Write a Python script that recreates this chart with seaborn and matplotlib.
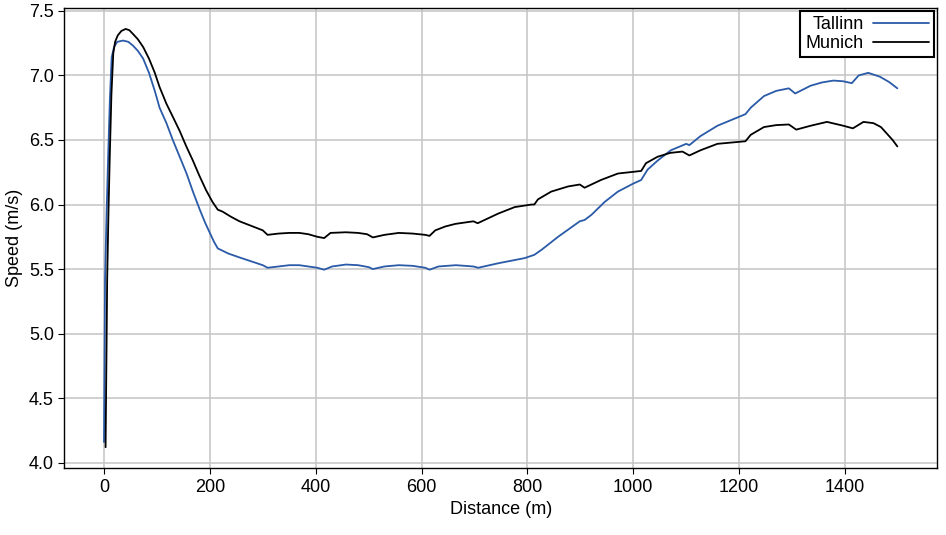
import seaborn as sns
import matplotlib.pyplot as plt
import pandas as pd

tallinn_dist = [0, 2, 5, 8, 11, 14.5, 19, 25, 36, 46, 55, 64, 74, 85, 96, 105, 118, 130, 143, 156,
                168, 181, 191, 200, 208, 215, 235, 256, 278, 300, 309, 330, 350, 369, 386, 403,
                416, 431, 457, 480, 500, 508, 530, 557, 583, 607, 615, 632, 665, 698, 707, 745,
                795, 813, 827, 858, 899, 908, 921, 946, 971, 999, 1015, 1027, 1046, 1071, 1100,
                1106, 1127, 1159, 1212, 1222, 1247, 1270, 1294, 1306, 1335, 1356, 1378, 1396,
                1413, 1426, 1444, 1466, 1483, 1499]
tallinn_speed = [4.16, 5.42, 5.95, 6.39, 6.80, 7.14, 7.22, 7.26, 7.27, 7.26, 7.23, 7.19, 7.13,
                 7.02, 6.88, 6.75, 6.63, 6.50, 6.37, 6.24, 6.10, 5.96, 5.86, 5.78, 5.71, 5.66,
                 5.62, 5.59, 5.56, 5.53, 5.51, 5.52, 5.53, 5.53, 5.52, 5.51, 5.495, 5.52, 5.535,
                 5.53, 5.515, 5.50, 5.52, 5.53, 5.525, 5.51, 5.495, 5.52, 5.53, 5.52, 5.51, 5.545,
                 5.585, 5.61, 5.65, 5.75, 5.87, 5.88, 5.92, 6.02, 6.10, 6.16, 6.19, 6.27, 6.34,
                 6.42, 6.47, 6.46, 6.53, 6.61, 6.70, 6.75, 6.84, 6.88, 6.90, 6.86, 6.92, 6.945,
                 6.96, 6.955, 6.94, 7.00, 7.02, 6.99, 6.95, 6.90]

munich_dist = [3, 6, 8.5, 11, 14, 17.5, 21, 26, 33, 41, 48, 55, 64, 74, 85, 96, 105, 118, 130,
               143, 155, 168, 180, 193, 205, 215, 224, 240, 256, 278, 300, 309, 330, 350, 369,
               386, 403, 416, 428, 457, 480, 497, 508, 530, 557, 583, 607, 615, 626, 645, 664,
               698, 706, 745, 776, 808, 813, 820, 845, 877, 899, 908, 939, 971, 1015, 1024, 1046,
               1070, 1093, 1106, 1127, 1159, 1212, 1222, 1247, 1270, 1294, 1308, 1335, 1366,
               1397, 1415, 1435, 1454, 1468, 1479, 1490, 1499]
munich_speed = [4.12, 5.42, 5.95, 6.39, 6.85, 7.17, 7.26, 7.31, 7.345, 7.36, 7.35, 7.32, 7.28,
                7.22, 7.13, 7.02, 6.91, 6.78, 6.68, 6.57, 6.455, 6.34, 6.225, 6.11, 6.02, 5.96,
                5.945, 5.905, 5.87, 5.835, 5.80, 5.765, 5.775, 5.78, 5.78, 5.77, 5.75, 5.74, 5.78,
                5.785, 5.78, 5.77, 5.745, 5.765, 5.78, 5.775, 5.765, 5.757, 5.80, 5.83, 5.85, 5.87,
                5.855, 5.93, 5.98, 6.00, 6.00, 6.04, 6.10, 6.14, 6.155, 6.13, 6.19, 6.24, 6.26,
                6.32, 6.37, 6.40, 6.41, 6.38, 6.42, 6.47, 6.49, 6.54, 6.60, 6.615, 6.62, 6.58, 6.61,
                6.64, 6.61, 6.59, 6.64, 6.63, 6.60, 6.55, 6.50, 6.45]

palette = {'Tallinn': '#2a5aa8', 'Munich': '#000000'}

df = pd.concat([
    pd.DataFrame({'Distance': tallinn_dist, 'Speed': tallinn_speed, 'City': 'Tallinn'}),
    pd.DataFrame({'Distance': munich_dist, 'Speed': munich_speed, 'City': 'Munich'}),
], ignore_index=True)

sns.set_style("ticks")
plt.rcParams['font.family'] = ['Liberation Sans', 'DejaVu Sans']
for k in ['text.color', 'axes.labelcolor', 'xtick.color', 'ytick.color']:
    plt.rcParams[k] = 'black'

fig, ax = plt.subplots(figsize=(9.46, 5.35), dpi=100)
fig.subplots_adjust(left=0.068, right=0.9905, top=0.985, bottom=0.125)

sns.lineplot(data=df, x='Distance', y='Speed', hue='City', palette=palette,
             estimator=None, sort=False, linewidth=1.3, ax=ax)

ax.grid(True, color='#c4c4c4', linewidth=1.1)
ax.set_axisbelow(True)
for s in ax.spines.values():
    s.set_color('black')
    s.set_linewidth(1.0)
ax.tick_params(labelsize=13, length=4)
ax.set_xlabel("Distance (m)", fontsize=13)
ax.set_ylabel("Speed (m/s)", fontsize=13)
ax.set_yticks([4.0, 4.5, 5.0, 5.5, 6.0, 6.5, 7.0, 7.5])
ax.set_xticks([0, 200, 400, 600, 800, 1000, 1200, 1400])

leg = ax.legend(loc='upper right', title=None, fontsize=13, markerfirst=False,
                fancybox=False, framealpha=1, edgecolor='black', borderaxespad=0.15,
                handlelength=3.1, handletextpad=0.5, labelspacing=0.1, borderpad=0.3)
leg.get_frame().set_linewidth(1.5)

plt.savefig("out.png", dpi=100)
